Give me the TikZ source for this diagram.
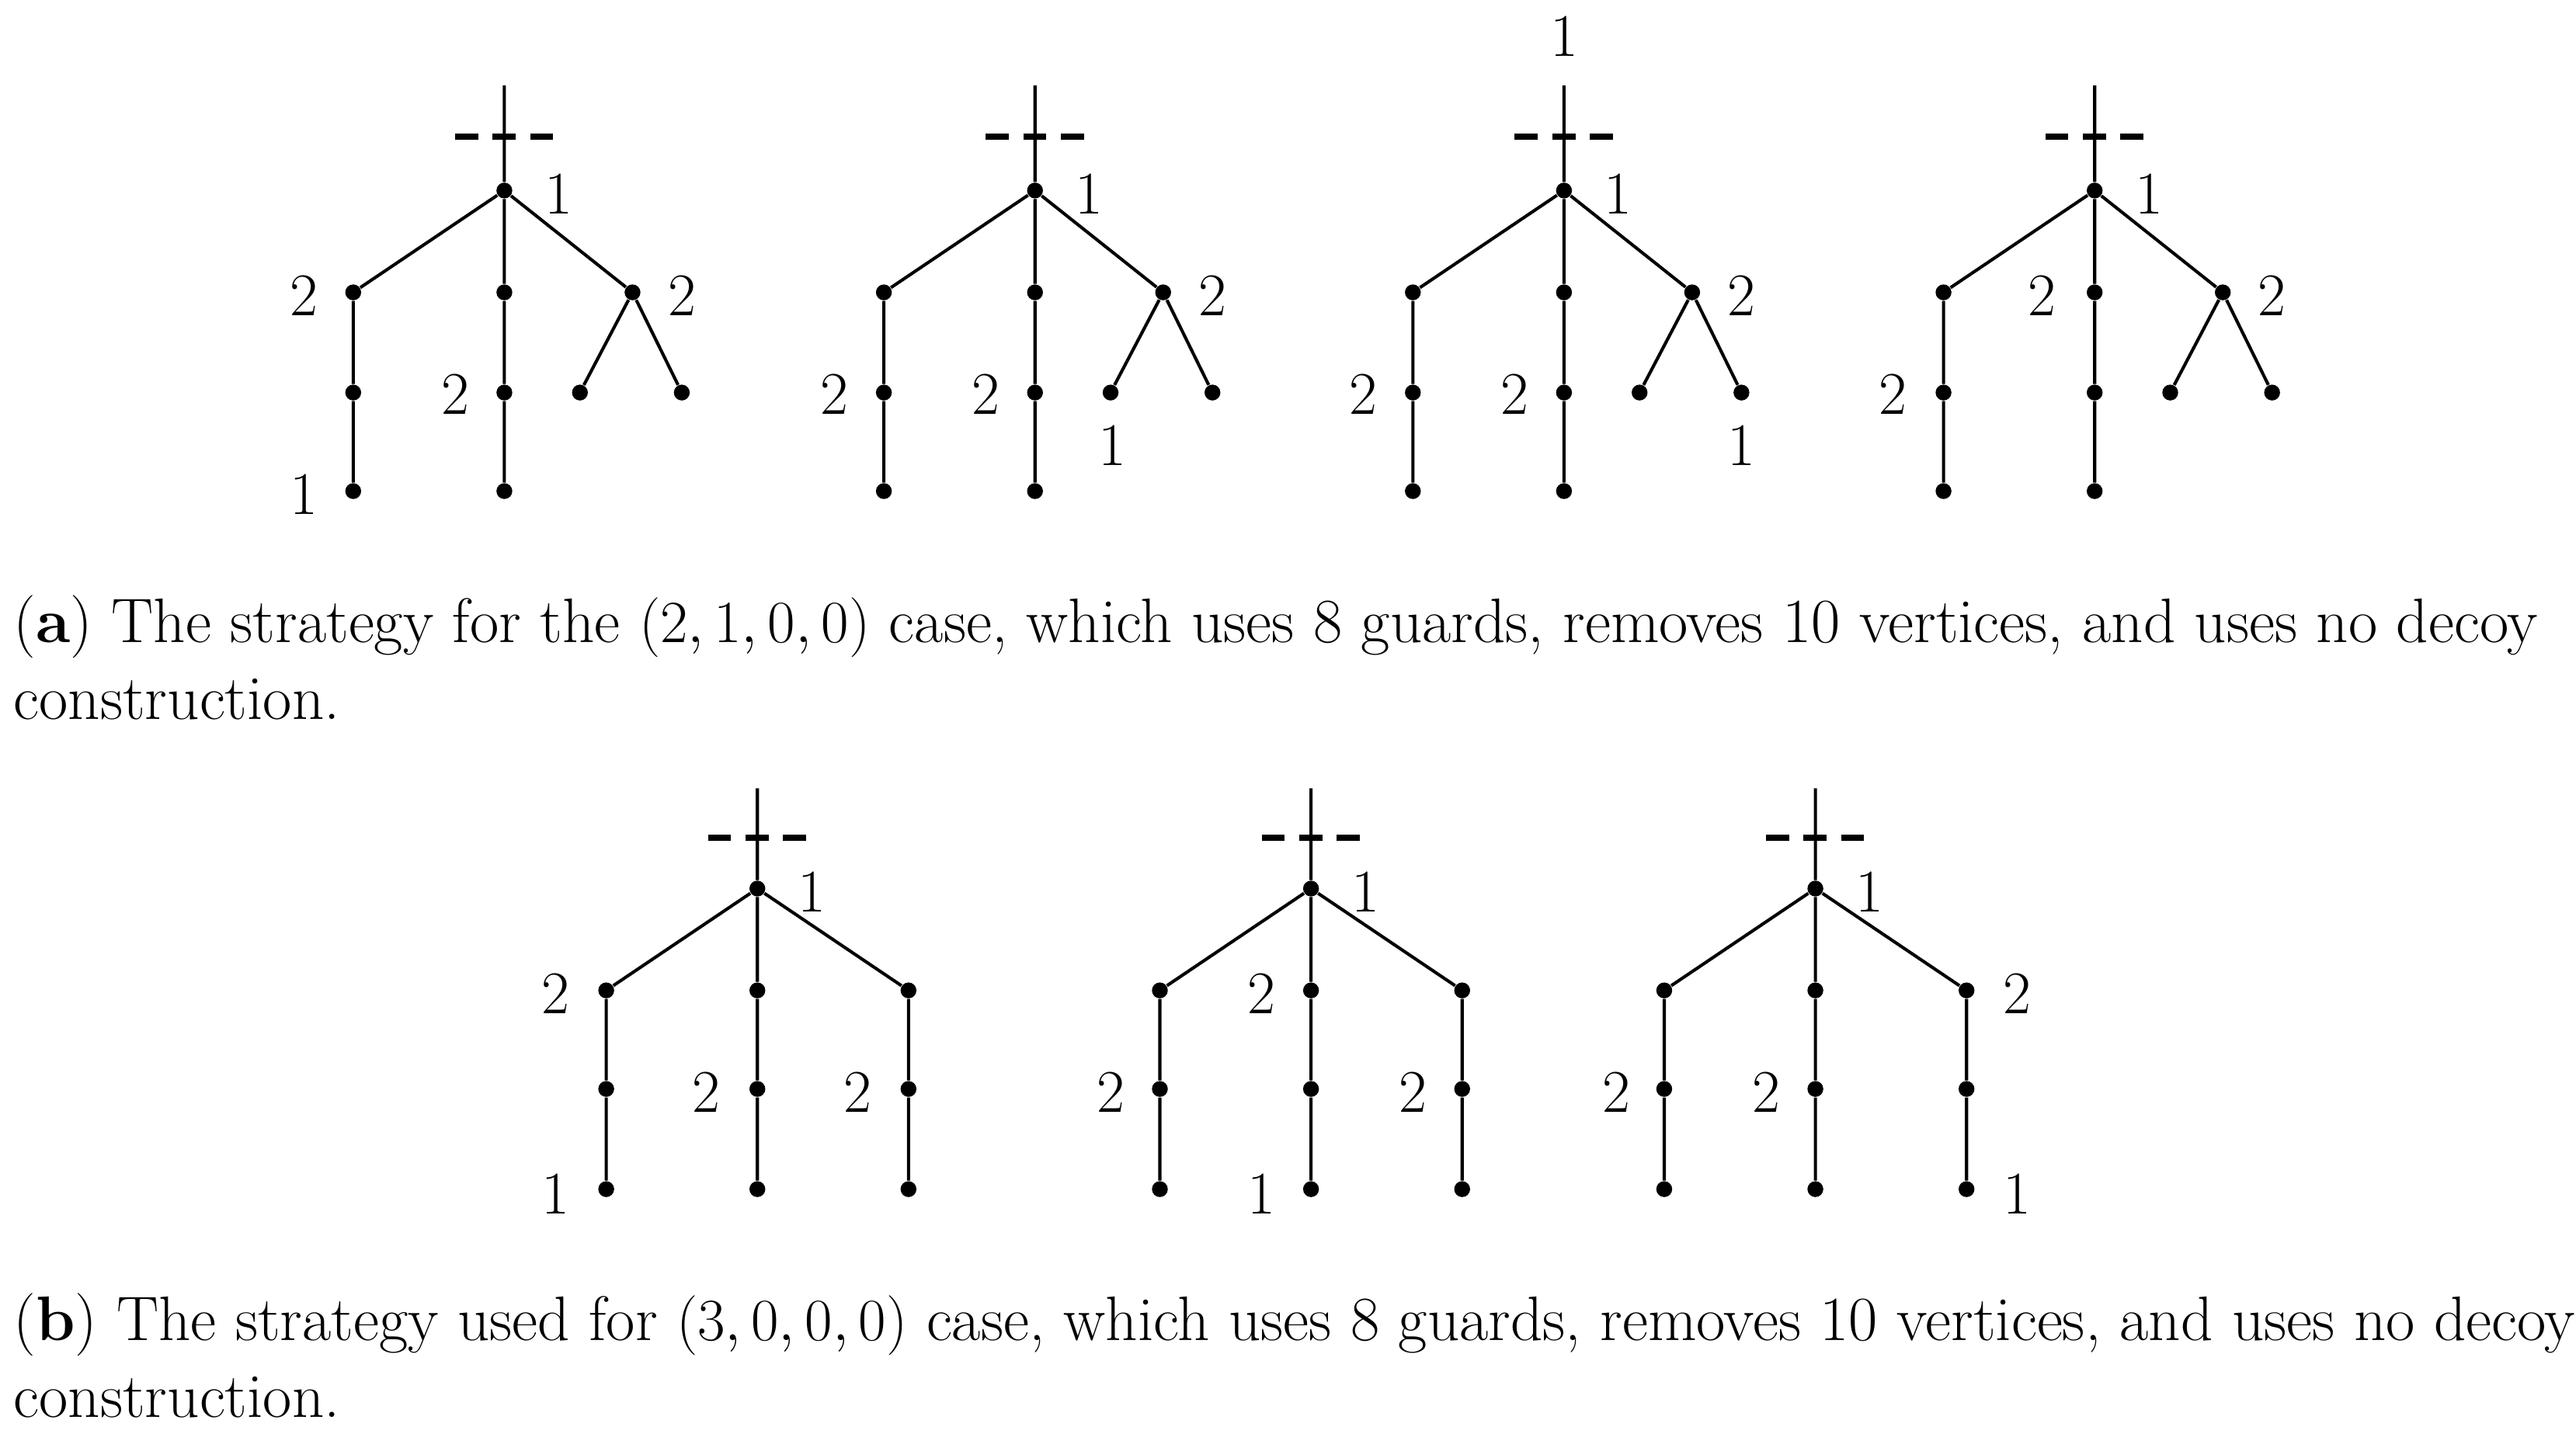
\documentclass[tikz,border=0pt]{standalone}
\begin{document}
\begin{tikzpicture}[x=0.02cm,y=-0.02cm,
  dot/.style={circle,fill,inner sep=0pt,minimum size=5.5pt},
  edge/.style={line width=1.1pt},
  lab/.style={font=\fontsize{21}{24}\selectfont,inner sep=0pt},
  captext/.style={font=\fontsize{21.8}{26}\selectfont,anchor=base west,inner sep=0pt}]
\useasboundingbox (0,0) rectangle (1568,877);
\newcommand\treeA[2]{%
 \begin{scope}[shift={(#1,0)}]
 \node[dot] (#2r) at (0,116) {};
 \coordinate (#2t) at (0,52);
 \node[dot] (#2a) at (-92,178) {}; \node[dot] (#2b) at (0,178) {}; \node[dot] (#2c) at (78,178) {};
 \node[dot] (#2a1) at (-92,239) {}; \node[dot] (#2a2) at (-92,299) {};
 \node[dot] (#2b1) at (0,239) {}; \node[dot] (#2b2) at (0,299) {};
 \node[dot] (#2c1) at (46,239) {}; \node[dot] (#2c2) at (108,239) {};
 \draw[edge] (#2t)--(#2r) (#2r)--(#2a)--(#2a1)--(#2a2) (#2r)--(#2b)--(#2b1)--(#2b2) (#2r)--(#2c)--(#2c1) (#2c)--(#2c2);
 \draw[line width=2.2pt,dash pattern=on 8pt off 5pt] (-30,83) coordinate (#2d1) -- (30,83) coordinate (#2d2);
 \node[lab] at (33,118) {1};
 \end{scope}}
\newcommand\treeB[2]{%
 \begin{scope}[shift={(#1,425)}]
 \node[dot] (#2r) at (0,116) {};
 \coordinate (#2t) at (0,55);
 \node[dot] (#2a) at (-92,178) {}; \node[dot] (#2b) at (0,178) {}; \node[dot] (#2c) at (92,178) {};
 \node[dot] (#2a1) at (-92,238) {}; \node[dot] (#2a2) at (-92,299) {};
 \node[dot] (#2b1) at (0,238) {}; \node[dot] (#2b2) at (0,299) {};
 \node[dot] (#2c1) at (92,238) {}; \node[dot] (#2c2) at (92,299) {};
 \draw[edge] (#2t)--(#2r) (#2r)--(#2a)--(#2a1)--(#2a2) (#2r)--(#2b)--(#2b1)--(#2b2) (#2r)--(#2c)--(#2c1)--(#2c2);
 \draw[line width=2.2pt,dash pattern=on 8pt off 5pt] (-30,85) coordinate (#2d1) -- (30,85) coordinate (#2d2);
 \node[lab] at (33,118) {1};
 \end{scope}}
\treeA{307}{p}\treeA{630}{q}\treeA{952}{s}\treeA{1275}{u}
\node[lab] at (185,180) {2}; \node[lab] at (415,180) {2}; \node[lab] at (277,240) {2}; \node[lab] at (185,301) {1};
\node[lab] at (738,180) {2}; \node[lab] at (508,240) {2}; \node[lab] at (600,240) {2}; \node[lab] at (677,271) {1};
\node[lab] at (952,22) {1}; \node[lab] at (1060,180) {2}; \node[lab] at (830,240) {2}; \node[lab] at (922,240) {2}; \node[lab] at (1060,271) {1};
\node[lab] at (1243,180) {2}; \node[lab] at (1383,180) {2}; \node[lab] at (1152,240) {2};
\treeB{461}{v}\treeB{798}{w}\treeB{1105}{z}
\node[lab] at (338,605) {2}; \node[lab] at (430,665) {2}; \node[lab] at (522,665) {2}; \node[lab] at (338,727) {1};
\node[lab] at (768,605) {2}; \node[lab] at (676,665) {2}; \node[lab] at (860,665) {2}; \node[lab] at (768,727) {1};
\node[lab] at (1228,605) {2}; \node[lab] at (984,665) {2}; \node[lab] at (1075,665) {2}; \node[lab] at (1228,727) {1};
\node[captext] (capa) at (8,391) {(\textbf{a}) The strategy for the $(2,1,0,0)$ case, which uses 8 guards, removes 10 vertices, and uses no decoy};
\node[captext] (capa2) at (8,438) {construction.};
\node[captext] (capb) at (8,816) {(\textbf{b}) The strategy used for $(3,0,0,0)$ case, which uses 8 guards, removes 10 vertices, and uses no decoy};
\node[captext] (capb2) at (8,863) {construction.};
\end{tikzpicture}
\end{document}
